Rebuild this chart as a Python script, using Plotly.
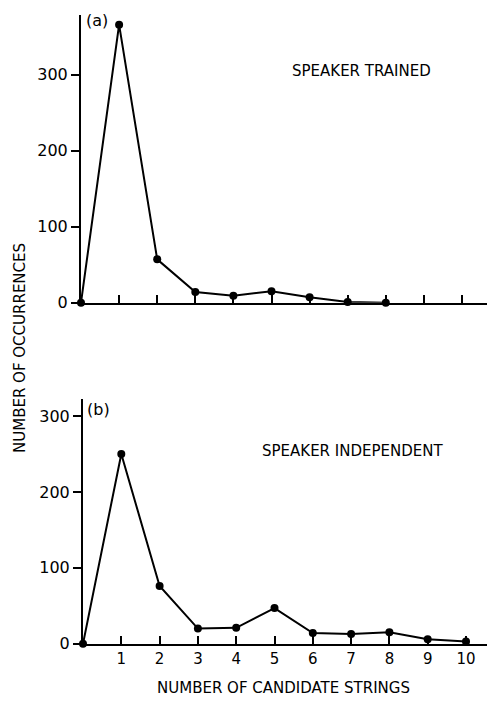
import plotly.graph_objects as go

x_vals = [0, 1, 2, 3, 4, 5, 6, 7, 8, 9, 10]
trained_x = [0, 1, 2, 3, 4, 5, 6, 7, 8]
trained_y = [0, 366, 57, 14, 9, 15, 7, 1, 0]
indep_x = [0, 1, 2, 3, 4, 5, 6, 7, 8, 9, 10]
indep_y = [0, 250, 76, 20, 21, 47, 14, 13, 15, 6, 3]
y_ticks = [0, 100, 200, 300]
x_tick_labels = ["1", "2", "3", "4", "5", "6", "7", "8", "9", "10"]

FONT = "DejaVu Sans"
W, H = 489, 706

fig = go.Figure()
mk = dict(color="black", size=8)
ln = dict(color="black", width=2)
fig.add_trace(go.Scatter(x=trained_x, y=trained_y, mode="lines+markers", marker=mk, line=ln,
                         xaxis="x", yaxis="y", cliponaxis=False, showlegend=False))
fig.add_trace(go.Scatter(x=indep_x, y=indep_y, mode="lines+markers", marker=mk, line=ln,
                         xaxis="x2", yaxis="y2", cliponaxis=False, showlegend=False))

common_x = dict(showgrid=False, zeroline=False, showline=True, linecolor="black", linewidth=2,
                ticks="inside", ticklen=8, tickwidth=1.5, tickcolor="black",
                tickvals=x_vals[1:], ticktext=x_tick_labels, tickfont=dict(size=15))
common_y = dict(showgrid=False, zeroline=False, showline=True, linecolor="black", linewidth=2,
                ticks="outside", ticklen=8, tickwidth=1.5, tickcolor="black",
                tickvals=y_ticks, ticktext=[str(v) for v in y_ticks], tickfont=dict(size=16))

fig.update_layout(
    width=W, height=H,
    margin=dict(l=0, r=0, t=0, b=0),
    paper_bgcolor="white", plot_bgcolor="white",
    font=dict(family=FONT, color="black", size=15),
    xaxis=dict(domain=[81 / W, 487 / W], range=[0, (487 - 81) / 38.1], anchor="y",
               showticklabels=False, **common_x),
    yaxis=dict(domain=[1 - 307 / H, 1 - 15 / H], range=[0, 379], anchor="x", **common_y),
    xaxis2=dict(domain=[83 / W, 487 / W], range=[0, (487 - 83) / 38.3], anchor="y2",
                showticklabels=True, **common_x),
    yaxis2=dict(domain=[1 - 653 / H, 1 - 405 / H], range=[0, 322], anchor="x2", **common_y),
)

def ann(text, x, y, size=15, angle=0):
    fig.add_annotation(text=text, x=x / W, y=1 - y / H, xref="paper", yref="paper",
                       showarrow=False, textangle=angle, font=dict(family=FONT, size=size, color="black"),
                       xanchor="center", yanchor="middle")

ann("(a)", 97, 21, size=16)
ann("SPEAKER TRAINED", 361, 72)
ann("(b)", 98, 415, size=16)
ann("SPEAKER INDEPENDENT", 352, 457)
ann("NUMBER OF CANDIDATE STRINGS", 283, 698)
ann("NUMBER OF OCCURRENCES", 20, 353, angle=-90)

fig.write_html("out.html", config={"displayModeBar": False},
               post_script="document.body.style.margin='0';document.body.style.overflow='hidden';")
